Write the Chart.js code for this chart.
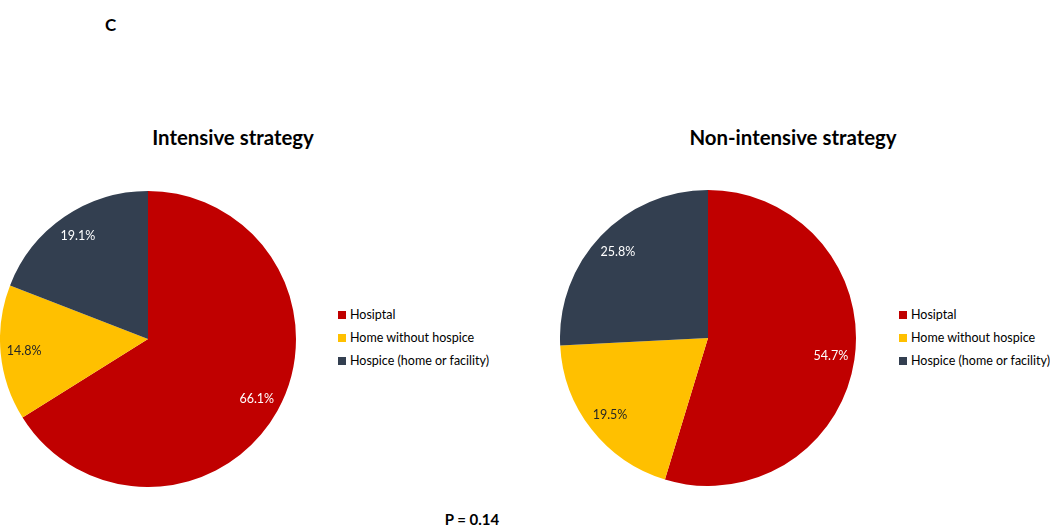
<!DOCTYPE html>
<html>
<head>
<meta charset="UTF-8">
<title>Place of death</title>
<script src="https://cdn.jsdelivr.net/npm/chart.js@4.4.1/dist/chart.umd.min.js"></script>
<style>
  body { margin:0; width:1050px; height:528px; background:#fff; position:relative; overflow:hidden;
         font-family:Lato, "Open Sans", sans-serif; color:#000; }
  .abs { position:absolute; }
  .panel { position:absolute; font-weight:bold; font-size:17px; }
  .title { position:absolute; font-weight:bold; font-size:20.4px; transform:translateX(-50%); white-space:nowrap; }
  .legend { position:absolute; font-size:12.5px; }
  .legend div { height:23px; line-height:14px; white-space:nowrap; }
  .legend span { display:inline-block; width:8px; height:8px; margin-right:4px; vertical-align:0px; }
  .pval { position:absolute; font-weight:bold; font-size:15px; transform:translateX(-50%); }
</style>
</head>
<body>
<div class="panel" style="left:105px;top:14px">C</div>

<div class="title" style="left:233px;top:125px" id="t0"></div>
<div class="title" style="left:793px;top:125px" id="t1"></div>

<canvas id="pie0" class="abs" width="296" height="296" style="left:0px;top:191px"></canvas>
<canvas id="pie1" class="abs" width="296" height="296" style="left:560px;top:190px"></canvas>

<div class="legend" id="leg0" style="left:338px;top:308px"></div>
<div class="legend" id="leg1" style="left:899px;top:308px"></div>

<div class="pval" style="left:472px;top:510px">P = 0.14</div>

<script>
const categories = ["Hosiptal", "Home without hospice", "Hospice (home or facility)"];
const titles = ["Intensive strategy", "Non-intensive strategy"];
const intensive = [66.1, 14.8, 19.1];
const nonIntensive = [54.7, 19.5, 25.8];
const colors = ["#C00000", "#FFC000", "#333F50"];
const labelColors = ["#ffffff", "#262626", "#ffffff"];

// percentage labels inside the slices
const sliceLabels = {
  id: "sliceLabels",
  afterDatasetsDraw(chart) {
    const ctx = chart.ctx;
    const meta = chart.getDatasetMeta(0);
    const values = chart.data.datasets[0].data;
    ctx.save();
    ctx.font = "12.5px Lato, 'Open Sans', sans-serif";
    ctx.textAlign = "center";
    ctx.textBaseline = "middle";
    meta.data.forEach((arc, i) => {
      const p = arc.getProps(["x", "y", "startAngle", "endAngle", "outerRadius"], true);
      const mid = (p.startAngle + p.endAngle) / 2;
      const r = p.outerRadius * 0.84;
      ctx.fillStyle = labelColors[i];
      ctx.fillText(values[i].toFixed(1) + "%", p.x + Math.cos(mid) * r, p.y + Math.sin(mid) * r);
    });
    ctx.restore();
  }
};

function makePie(id, values) {
  return new Chart(document.getElementById(id), {
    type: "pie",
    data: {
      labels: categories,
      datasets: [{ data: values, backgroundColor: colors, borderWidth: 0 }]
    },
    options: {
      responsive: false,
      animation: false,
      layout: { padding: 0 },
      plugins: { legend: { display: false }, tooltip: { enabled: false } }
    },
    plugins: [sliceLabels]
  });
}

makePie("pie0", intensive);
makePie("pie1", nonIntensive);

titles.forEach((t, i) => { document.getElementById("t" + i).textContent = t; });

["leg0", "leg1"].forEach(id => {
  const el = document.getElementById(id);
  categories.forEach((c, i) => {
    const row = document.createElement("div");
    row.innerHTML = '<span style="background:' + colors[i] + '"></span>' + c;
    el.appendChild(row);
  });
});
</script>
</body>
</html>
